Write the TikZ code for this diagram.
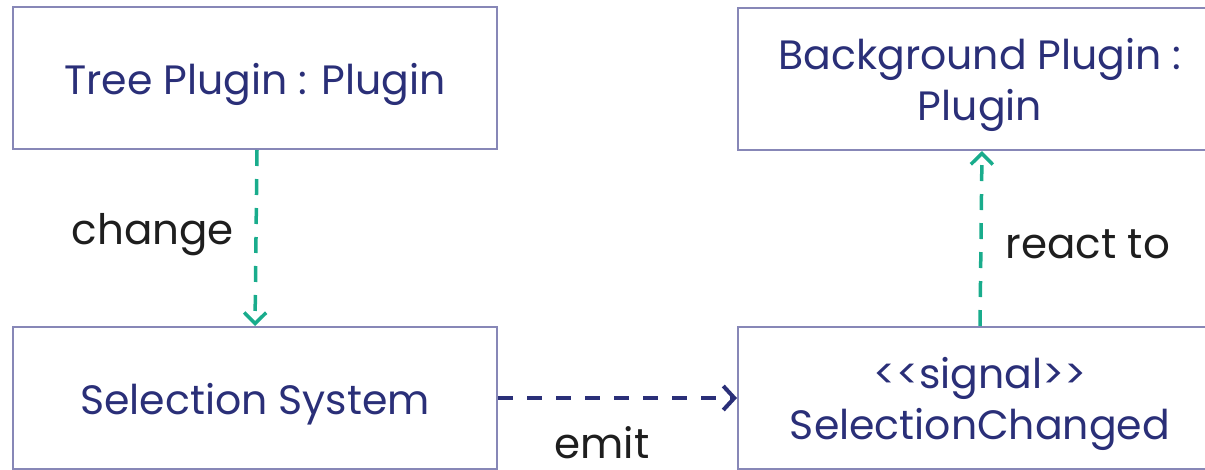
\documentclass[tikz,border=0pt]{standalone}
\usepackage{fontspec}
\setmainfont{Poppins}
\usetikzlibrary{arrows.meta}
\definecolor{boxline}{HTML}{8787B7}
\definecolor{boxtext}{HTML}{2A2F78}
\definecolor{flowgreen}{HTML}{19AC8C}
\definecolor{labeltext}{HTML}{1E1E1E}
\tikzset{
  umlbox/.style={draw=boxline, line width=2pt, minimum width=484pt, minimum height=142pt,
    inner sep=0pt},
  boxlabel/.style={text=boxtext, align=center, inner sep=0pt, yshift=-6pt,
    font=\fontsize{41}{51}\selectfont},
  lbl/.style={text=labeltext, inner sep=0pt, font=\fontsize{42}{46}\selectfont},
  greenflow/.style={draw=flowgreen, line width=3.5pt, dash pattern=on 16pt off 13pt,
    -{Straight Barb[length=11pt,width=22pt,line width=3.5pt]}},
  emitflow/.style={draw=boxtext, line width=4pt, dash pattern=on 15pt off 14pt,
    -{Straight Barb[length=11pt,width=24pt,line width=4pt]}}
}
\begin{document}
\begin{tikzpicture}[x=1pt,y=-1pt]
\useasboundingbox (0,0) rectangle (1205,469);
\clip (0,0) rectangle (1205,469);
\node[umlbox, label={[boxlabel]center:Tree Plugin : Plugin}] (tree) at (255,78) {};
\node[umlbox, label={[boxlabel]center:Background Plugin :\\Plugin}] (bg) at (980,79) {};
\node[umlbox, label={[boxlabel]center:Selection System}] (sel) at (255,398) {};
\node[umlbox, label={[boxlabel]center:<{}<signal>{}>\\SelectionChanged}] (sig) at (980,398) {};
\draw[greenflow] ([xshift=2pt]tree.south) -- (sel.north);
\draw[greenflow] (sig.north) -- ([xshift=2pt]bg.south);
\draw[emitflow] (sel.east) -- (sig.west);
\node[lbl] (lchange) at (153,235) {change};
\node[lbl] (lreact) at (1088,244) {react to};
\node[lbl] (lemit) at (602,443) {emit};
\end{tikzpicture}
\end{document}
